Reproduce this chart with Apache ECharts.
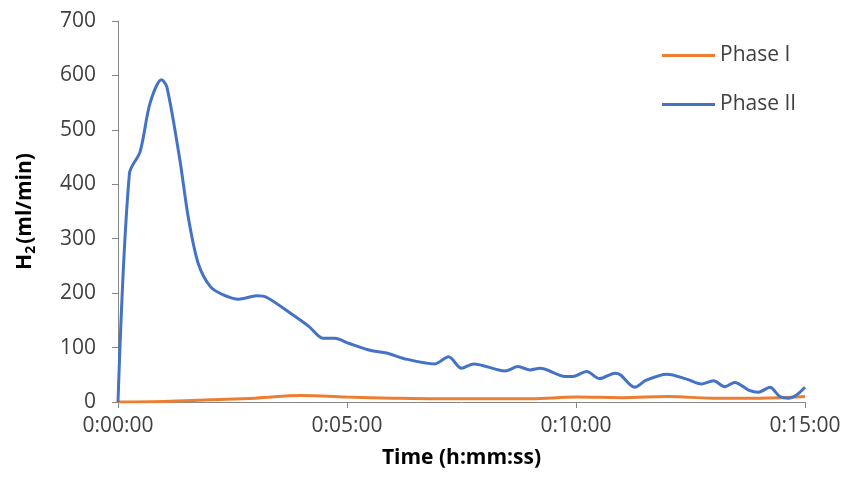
<!DOCTYPE html>
<html><head><meta charset="utf-8">
<script src="https://cdn.jsdelivr.net/npm/echarts@6/dist/echarts.min.js"></script>
<style>html,body{margin:0;padding:0;background:#fff}#c{width:846px;height:477px}</style>
</head><body><div id="c"></div>
<script>
// time in seconds
const phase2Time = [0,15,29,42,57,64,81,92,105,121,138,158,182,195,226,250,269,284,302,330,352,374,415,433,450,466,507,524,540,553,586,596,614,631,651,658,677,692,719,745,764,780,795,808,826,839,854,867,878,889,900];
const phase2Val  = [0,420,460,549,592,579,445,340,255,212,197,189,195,192,163,139,117,117,108,95,90,80,70,83,62,70,57,65,59,62,47,47,56,43,53,50,27,40,51,42,33,39,28,36,22,18,27,10,7,13,27];
const phase1Time = [0,60,120,180,240,300,360,420,480,540,600,660,720,780,840,900];
const phase1Val  = [0,1,4,7,12,9,7,6,6,6,9,8,10,7,7,10];
const seriesNames = ['Phase I','Phase II'];
const yTicks = [0,100,200,300,400,500,600,700];

function fmt(s){const h=Math.floor(s/3600),m=Math.floor((s%3600)/60),ss=Math.round(s%60);return h+':'+String(m).padStart(2,'0')+':'+String(ss).padStart(2,'0');}
const zip=(a,b)=>a.map((t,i)=>[t,b[i]]);
const font='"Open Sans", sans-serif';
const chart=echarts.init(document.getElementById('c'));
chart.setOption({
  animation:false,
  grid:{left:118,right:41,top:21,bottom:75,containLabel:false},
  legend:{orient:'vertical',left:657,top:40,icon:'rect',itemWidth:53,itemHeight:3,itemGap:28,
    textStyle:{fontFamily:font,fontSize:21,color:'#404040'},data:seriesNames},
  xAxis:{type:'value',min:0,max:900,interval:300,
    name:'Time (h:mm:ss)',nameLocation:'middle',nameGap:46,
    nameTextStyle:{fontFamily:font,fontSize:21,fontWeight:'bold',color:'#000'},
    axisLine:{lineStyle:{color:'#868686',width:1}},
    axisTick:{show:true,length:6,lineStyle:{color:'#868686'}},
    splitLine:{show:false},
    axisLabel:{fontFamily:font,fontSize:21,color:'#404040',margin:14,formatter:v=>fmt(v)}},
  yAxis:{type:'value',min:yTicks[0],max:yTicks[yTicks.length-1],interval:100,
    name:'{b|H}{s|2}{b|(ml/min)}',nameLocation:'middle',nameGap:80,nameRotate:90,
    nameTextStyle:{rich:{b:{fontFamily:font,fontSize:21,fontWeight:'bold',color:'#000'},
      s:{fontFamily:font,fontSize:14,fontWeight:'bold',color:'#000',verticalAlign:'bottom',padding:[12,2,0,0]}}},
    axisLine:{show:true,lineStyle:{color:'#868686',width:1}},
    axisTick:{show:true,length:6,lineStyle:{color:'#868686'}},
    splitLine:{show:false},
    axisLabel:{fontFamily:font,fontSize:21,color:'#404040',margin:22}},
  series:[
    {name:seriesNames[0],type:'line',data:zip(phase1Time,phase1Val),smooth:0.4,symbol:'none',
      lineStyle:{color:'#ED7D31',width:3},itemStyle:{color:'#ED7D31'},z:2},
    {name:seriesNames[1],type:'line',data:zip(phase2Time,phase2Val),smooth:0.3,symbol:'none',
      lineStyle:{color:'#4472C4',width:3},itemStyle:{color:'#4472C4'},z:3}
  ]
});
</script></body></html>
